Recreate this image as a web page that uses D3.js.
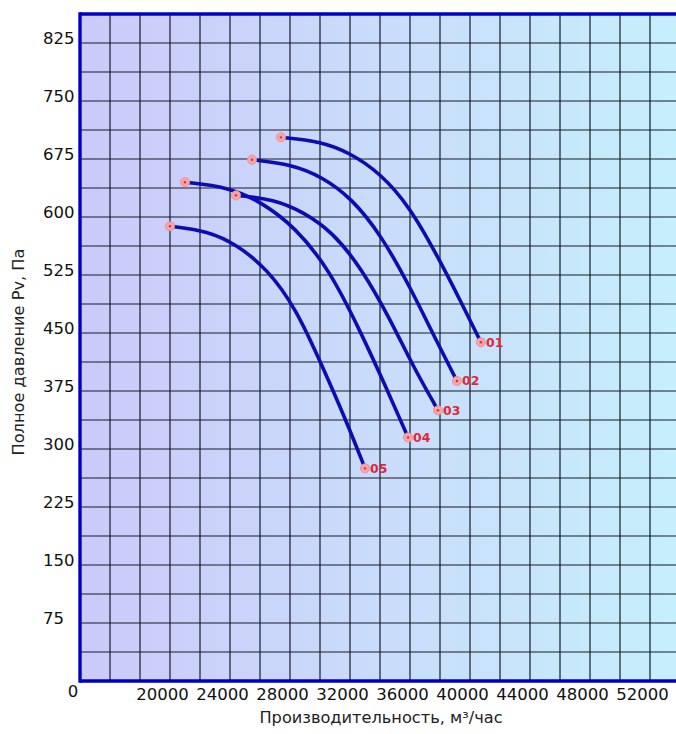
<!DOCTYPE html>
<html>
<head>
<meta charset="utf-8">
<script src="https://cdn.jsdelivr.net/npm/d3@7"></script>
<style>
  html, body { margin: 0; padding: 0; background: #ffffff; }
  svg { display: block; }
</style>
</head>
<body>
<svg id="chart" width="676" height="734"></svg>
<script>
// ---------- data ----------
const seriesNames = ["01", "02", "03", "04", "05"];
const flow01 = [27400, 30000, 32000, 34000, 36000, 37870, 39330, 40730];
const pres01 = [703, 698, 683, 657, 613, 548, 493, 438];
const flow02 = [25470, 28130, 30130, 32070, 34070, 36070, 37600, 39130];
const pres02 = [674, 668, 652, 625, 577, 507, 446, 388];
const flow03 = [24400, 26930, 28930, 30800, 32730, 34730, 36200, 37870];
const pres03 = [628, 623, 606, 581, 535, 466, 407, 350];
const flow04 = [21000, 23870, 26130, 28330, 30600, 32670, 34330, 35870];
const pres04 = [645, 639, 619, 587, 533, 453, 383, 315];
const flow05 = [20000, 22530, 24470, 26470, 28400, 30200, 31670, 33000];
const pres05 = [588, 582, 564, 533, 482, 405, 340, 275];

const xTickValues = [20000, 24000, 28000, 32000, 36000, 40000, 44000, 48000, 52000];
const xTickLabels = ["20000", "24000", "28000", "32000", "36000", "40000", "44000", "48000", "52000"];
const yTickValues = [75, 150, 225, 300, 375, 450, 525, 600, 675, 750, 825];
const yTickLabels = ["75", "150", "225", "300", "375", "450", "525", "600", "675", "750", "825"];
const originLabel = "0";
const xTitle = "Производительность, м³/час";
const yTitle = "Полное давление Pv, Па";

const xMin = 14000, xMax = 54000, xStep = 2000;
const yMin = 0, yMax = 862.5, yStep = 37.5;

// ---------- layout ----------
const svg = d3.select("#chart");
const pLeft = 80, pRight = 680, pTop = 14, pBottom = 681;

const x = d3.scaleLinear().domain([xMin, xMax]).range([pLeft, pRight]);
const y = d3.scaleLinear().domain([yMin, yMax]).range([pBottom, pTop]);

const font = "'DejaVu Sans', Verdana, sans-serif";

// background gradient
const defs = svg.append("defs");
const grad = defs.append("linearGradient").attr("id", "bg")
  .attr("x1", "0%").attr("y1", "0%").attr("x2", "100%").attr("y2", "0%");
grad.append("stop").attr("offset", "0%").attr("stop-color", "#cbcaf9");
grad.append("stop").attr("offset", "50%").attr("stop-color", "#c9dcfa");
grad.append("stop").attr("offset", "100%").attr("stop-color", "#c6effc");

svg.append("rect")
  .attr("x", pLeft).attr("y", pTop)
  .attr("width", pRight - pLeft).attr("height", pBottom - pTop)
  .attr("fill", "url(#bg)");

// grid
const xGrid = d3.range(xMin + xStep, xMax + 1, xStep);
const yGrid = d3.range(yMin + yStep, yMax, yStep);
const grid = svg.append("g").attr("stroke", "#141c2a").attr("stroke-width", 1.2);
grid.selectAll("line.v").data(xGrid).join("line")
  .attr("class", "v")
  .attr("x1", d => x(d)).attr("x2", d => x(d))
  .attr("y1", pTop).attr("y2", pBottom);
grid.selectAll("line.h").data(yGrid).join("line")
  .attr("class", "h")
  .attr("x1", pLeft).attr("x2", pRight)
  .attr("y1", d => y(d)).attr("y2", d => y(d));

// frame (blue)
const frame = svg.append("g").attr("stroke", "#0000c4").attr("stroke-width", 3.4).attr("fill", "none");
frame.append("line").attr("x1", pLeft).attr("x2", pRight).attr("y1", y(yMax)).attr("y2", y(yMax));
frame.append("line").attr("x1", pLeft).attr("x2", pRight).attr("y1", y(yMin)).attr("y2", y(yMin));
frame.append("line").attr("x1", x(xMin)).attr("x2", x(xMin)).attr("y1", pTop - 1.7).attr("y2", pBottom + 1.7);

// x axis labels
const xAxis = d3.axisBottom(x).tickValues(xTickValues).tickSize(0)
  .tickFormat((d, i) => xTickLabels[i]);
const gx = svg.append("g").attr("transform", `translate(0,${pBottom})`).call(xAxis);
gx.select(".domain").remove();
gx.selectAll("text")
  .attr("y", 19).attr("dy", 0).attr("dx", -8)
  .attr("fill", "#111").attr("font-size", 16.5).attr("font-family", font);

// y axis labels
const yAxis = d3.axisLeft(y).tickValues(yTickValues).tickSize(0)
  .tickFormat((d, i) => yTickLabels[i]);
const gy = svg.append("g").attr("transform", `translate(${pLeft},0)`).call(yAxis);
gy.select(".domain").remove();
gy.selectAll("text")
  .attr("x", 43 - pLeft).attr("dy", 0.5).attr("text-anchor", "start")
  .attr("fill", "#111").attr("font-size", 16.5).attr("font-family", font);

// origin label
svg.append("text").attr("x", x(xMin) - 7).attr("y", 697)
  .attr("text-anchor", "middle").attr("font-size", 16.5).attr("font-family", font)
  .attr("fill", "#111").text(originLabel);

// axis titles
svg.append("text").attr("x", 381).attr("y", 723)
  .attr("text-anchor", "middle").attr("font-size", 16.2).attr("font-family", font)
  .attr("fill", "#222").text(xTitle);
svg.append("text").attr("transform", "translate(24,352) rotate(-90)")
  .attr("text-anchor", "middle").attr("font-size", 16.2).attr("font-family", font)
  .attr("fill", "#222").text(yTitle);

// curves
const flows = [flow01, flow02, flow03, flow04, flow05];
const pressures = [pres01, pres02, pres03, pres04, pres05];
const series = seriesNames.map((name, k) => ({
  name,
  pts: flows[k].map((f, i) => ({ q: f, p: pressures[k][i] }))
}));

const line = d3.line().x(d => x(d.q)).y(d => y(d.p)).curve(d3.curveBasis);

const gCurves = svg.append("g");
gCurves.selectAll("path").data(series).join("path")
  .attr("d", d => line(d.pts))
  .attr("fill", "none").attr("stroke", "#0c0cb2").attr("stroke-width", 3.6)
  .attr("stroke-linecap", "round");

// end markers
const markers = [];
series.forEach(s => {
  markers.push({ s, pt: s.pts[0], end: false });
  markers.push({ s, pt: s.pts[s.pts.length - 1], end: true });
});
const gm = svg.append("g");
gm.selectAll("circle.o").data(markers).join("circle")
  .attr("class", "o")
  .attr("cx", d => x(d.pt.q)).attr("cy", d => y(d.pt.p)).attr("r", 4.6)
  .attr("fill", "#f5a4a8").attr("stroke", "#f08a90").attr("stroke-width", 0.8);
gm.selectAll("circle.i").data(markers).join("circle")
  .attr("class", "i")
  .attr("cx", d => x(d.pt.q)).attr("cy", d => y(d.pt.p)).attr("r", 1.2)
  .attr("fill", "#d83040");

// series labels
svg.append("g").selectAll("text").data(markers.filter(m => m.end)).join("text")
  .attr("x", d => x(d.pt.q) + 5).attr("y", d => y(d.pt.p) + 4.5)
  .attr("font-size", 12.5).attr("font-weight", "bold").attr("font-family", font)
  .attr("fill", "#e3263a").text(d => d.s.name);
</script>
</body>
</html>
